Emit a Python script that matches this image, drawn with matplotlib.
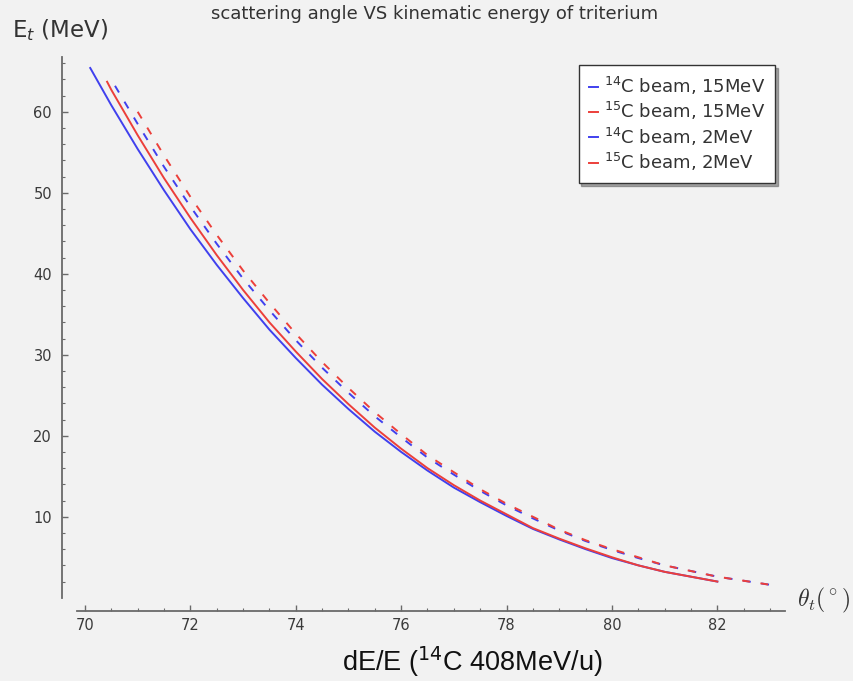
import matplotlib
matplotlib.use("Agg")
import matplotlib.pyplot as plt
from matplotlib.lines import Line2D
import numpy as np

plt.rcParams.update({
    'font.family': 'DejaVu Sans',
    'font.size': 10,
    'mathtext.fontset': 'dejavusans',
})

# scattering angle (deg) and triton energy (MeV) for each beam setting
theta_c14_15 = [70.1, 70.5, 71.0, 71.5, 72.0, 72.5, 73.0, 73.5, 74.0, 74.5, 75.0, 75.5,
                76.0, 76.5, 77.0, 77.5, 78.0, 78.5, 79.0, 79.5, 80.0, 80.5, 81.0, 81.5, 82.0]
e_c14_15 = [65.4, 60.8, 55.4, 50.3, 45.5, 41.1, 37.0, 33.1, 29.6, 26.3, 23.3, 20.5,
            18.0, 15.7, 13.6, 11.8, 10.1, 8.5, 7.2, 6.0, 4.9, 4.0, 3.2, 2.6, 2.0]

theta_c15_15 = [70.42, 70.5, 71.0, 71.5, 72.0, 72.5, 73.0, 73.5, 74.0, 74.5, 75.0, 75.5,
                76.0, 76.5, 77.0, 77.5, 78.0, 78.5, 79.0, 79.5, 80.0, 80.5, 81.0, 81.5, 82.0]
e_c15_15 = [63.7, 62.7, 57.1, 51.8, 46.9, 42.3, 38.0, 34.0, 30.4, 27.0, 23.9, 21.0,
            18.4, 16.0, 13.9, 12.0, 10.3, 8.6, 7.3, 6.1, 5.0, 4.0, 3.2, 2.6, 2.0]

theta_c14_2 = [70.57, 71.0, 71.5, 72.0, 72.5, 73.0, 73.5, 74.0, 74.5, 75.0, 75.5, 76.0, 76.5,
               77.0, 77.5, 78.0, 78.5, 79.0, 79.5, 80.0, 80.5, 81.0, 81.5, 82.0, 82.5, 83.0]
e_c14_2 = [63.2, 58.5, 53.2, 48.3, 43.7, 39.4, 35.5, 31.8, 28.4, 25.3, 22.4, 19.8, 17.3,
           15.2, 13.2, 11.4, 9.8, 8.3, 7.0, 5.9, 4.9, 4.0, 3.3, 2.6, 2.1, 1.6]

theta_c15_2 = [70.9, 71.0, 71.5, 72.0, 72.5, 73.0, 73.5, 74.0, 74.5, 75.0, 75.5, 76.0, 76.5,
               77.0, 77.5, 78.0, 78.5, 79.0, 79.5, 80.0, 80.5, 81.0, 81.5, 82.0, 82.5, 83.0]
e_c15_2 = [61.0, 60.0, 54.6, 49.5, 44.8, 40.4, 36.4, 32.6, 29.1, 25.9, 22.9, 20.2, 17.6,
           15.5, 13.4, 11.6, 10.0, 8.4, 7.1, 6.0, 5.0, 4.0, 3.3, 2.6, 2.1, 1.6]

labels = [r'$^{14}$C beam, 15MeV', r'$^{15}$C beam, 15MeV',
          r'$^{14}$C beam, 2MeV', r'$^{15}$C beam, 2MeV']
x_major = [70, 72, 74, 76, 78, 80, 82]
y_major = [10, 20, 30, 40, 50, 60]

bg = '#f2f2f2'
blue = '#4040ee'
red = '#ec3f3a'
axis_col = '#6a6a6a'

fig = plt.figure(figsize=(8.54, 6.81), dpi=100, facecolor=bg)
ax = fig.add_axes([0.0563, 0.0925, 0.8824, 0.8386], facecolor=bg)

ax.plot(theta_c14_15, e_c14_15, color=blue, lw=1.4, zorder=3)
ax.plot(theta_c15_15, e_c15_15, color=red, lw=1.4, zorder=3)
ax.plot(theta_c14_2, e_c14_2, color=blue, lw=1.4, ls=(0, (4, 5.5)), zorder=3)
ax.plot(theta_c15_2, e_c15_2, color=red, lw=1.4, ls=(4.5, (4, 5.5)), zorder=3)

ax.set_xlim(69.3, 83.6)
ax.set_ylim(-2.5, 68)

# free-floating axes, not meeting at the corner
for s in ['top', 'right']:
    ax.spines[s].set_visible(False)
ax.spines['left'].set_position(('data', 69.56))
ax.spines['left'].set_bounds(0, 66.8)
ax.spines['bottom'].set_position(('data', -1.6))
ax.spines['bottom'].set_bounds(69.85, 83.28)
for s in ['left', 'bottom']:
    ax.spines[s].set_color(axis_col)
    ax.spines[s].set_linewidth(1.3)

ax.set_xticks(x_major)
ax.set_xticks(np.arange(70, 83.01, 0.5), minor=True)
ax.set_yticks(y_major)
ax.set_yticks(np.arange(2, 66.1, 2), minor=True)
ax.tick_params(which='both', direction='in', color=axis_col, labelcolor='#3a3a3a')
ax.tick_params(which='major', length=4, width=1.0, labelsize=10.5)
ax.tick_params(which='minor', length=2.2, width=0.8)
ax.tick_params(axis='x', pad=5)
ax.tick_params(axis='y', pad=7)

# legend keys are short solid strokes for every entry
handles = [Line2D([0], [0], color=c, lw=1.4) for c in [blue, red, blue, red]]
leg = ax.legend(handles, labels, loc='upper right',
                bbox_to_anchor=(775 / 854, 1 - 65 / 681),
                bbox_transform=fig.transFigure, borderaxespad=0,
                frameon=True, fancybox=False, shadow={'color': '#555555'},
                edgecolor='#333333', facecolor='white', framealpha=1, fontsize=13,
                handlelength=0.5, handletextpad=0.35, labelspacing=0.18,
                borderpad=0.55)
leg.get_frame().set_linewidth(1.0)
for t in leg.get_texts():
    t.set_color('#333333')

fig.text(435 / 854, 1 - 14 / 681, 'scattering angle VS kinematic energy of triterium',
         ha='center', va='center', fontsize=13, color='#333333')
fig.text(12 / 854, 1 - 30 / 681, r'E$_{\mathit{t}}$ (MeV)', ha='left', va='center',
         fontsize=16.5, color='#333333')
fig.text(797 / 854, 1 - 600 / 681, r'$\theta_t(^\circ)$', ha='left', va='center',
         fontsize=17, color='#333333', math_fontfamily='cm')
fig.text(472 / 854, 1 - 662 / 681, r'dE/E ($^{14}$C 408MeV/u)', ha='center', va='center',
         fontsize=19.5, family='Liberation Sans', color='#111111')

fig.savefig('out.png', dpi=100, facecolor=bg)
